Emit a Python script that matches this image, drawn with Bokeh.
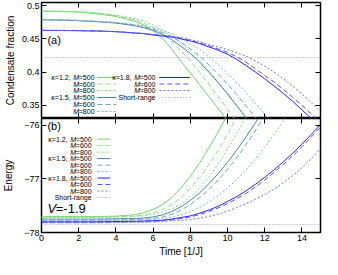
import numpy as np
from bokeh.plotting import figure
from bokeh.layouts import column
from bokeh.models import (LinearAxis, FixedTicker, CustomJSTickFormatter, Range1d, Label, Arrow,
                          CustomLabelingPolicy)
from bokeh.embed import file_html
from bokeh.resources import INLINE

# ---------------- data ----------------
time = [0, 1, 2, 3, 4, 5, 5.5, 6, 6.5, 7, 7.5, 8, 8.5, 9, 9.5, 10,
        10.5, 11, 11.5, 12, 12.5, 13, 13.5, 14, 14.5, 15]

# condensate fraction
cf_k12_m500 = [.492, .4915, .4905, .488, .484, .477, .471, .462, .451, .435, .416, .399, .381, .363, .345, .327] + [None] * 10
cf_k12_m600 = [.492, .4918, .491, .489, .485, .479, .474, .467, .458, .446, .432, .417, .400, .382, .363, .344, .325] + [None] * 9
cf_k12_m800 = [.492, .4918, .491, .489, .486, .481, .477, .471, .464, .455, .444, .432, .418, .402, .385, .368, .350, .332, .314] + [None] * 7
cf_k15_m500 = [.479, .4785, .4775, .476, .474, .470, .467, .463, .457, .449, .439, .428, .415, .400, .384, .367, .349, .331, .312] + [None] * 7
cf_k15_m600 = [.479, .4787, .478, .4765, .4745, .471, .468, .465, .460, .453, .445, .435, .424, .411, .397, .382, .366, .349, .332, .314] + [None] * 6
cf_k15_m800 = [.479, .4788, .478, .477, .475, .472, .470, .467, .463, .458, .451, .443, .434, .423, .411, .398, .384, .369, .353, .337, .320] + [None] * 5
cf_k18_m500 = [.463, .4628, .4625, .462, .461, .459, .458, .456, .4545, .453, .450, .447, .443, .438, .433, .427, .419, .410, .400, .390, .379, .368, .356, .343, .330, .317]
cf_k18_m600 = [.463, .4628, .4625, .462, .461, .459, .458, .4565, .455, .4535, .451, .448, .444, .440, .435, .430, .423, .415, .405, .395, .385, .374, .362, .350, .337, .324]
cf_k18_m800 = [.463, .4628, .4625, .462, .461, .4595, .4585, .457, .4555, .454, .452, .449, .446, .442, .438, .434, .429, .424, .417, .409, .400, .390, .379, .367, .354, .340]

# energy
e_k12_m500 = [-77.70, -77.70, -77.70, -77.70, -77.695, -77.67, -77.63, -77.57, -77.48, -77.35, -77.17, -76.95, -76.70, -76.42, -76.12, -75.80] + [None] * 10
e_k12_m600 = [-77.71, -77.71, -77.71, -77.71, -77.705, -77.69, -77.67, -77.63, -77.57, -77.48, -77.35, -77.18, -76.97, -76.73, -76.46, -76.16, -75.84] + [None] * 9
e_k12_m800 = [-77.72, -77.72, -77.72, -77.72, -77.715, -77.70, -77.69, -77.66, -77.62, -77.56, -77.47, -77.34, -77.17, -76.96, -76.72, -76.45, -76.15, -75.84] + [None] * 8
e_k15_m500 = [-77.75, -77.75, -77.75, -77.75, -77.745, -77.74, -77.73, -77.71, -77.67, -77.61, -77.52, -77.40, -77.26, -77.09, -76.90, -76.69, -76.46, -76.21, -75.95, -75.67] + [None] * 6
e_k15_m600 = [-77.77, -77.77, -77.77, -77.77, -77.765, -77.76, -77.75, -77.74, -77.71, -77.66, -77.58, -77.48, -77.35, -77.20, -77.02, -76.82, -76.60, -76.36, -76.10, -75.82] + [None] * 6
e_k15_m800 = [-77.78, -77.78, -77.78, -77.78, -77.775, -77.77, -77.765, -77.76, -77.74, -77.71, -77.67, -77.61, -77.53, -77.43, -77.31, -77.17, -77.01, -76.83, -76.63, -76.41, -76.17, -75.92, -75.65] + [None] * 3
e_k18_m500 = [-77.80, -77.80, -77.80, -77.80, -77.795, -77.79, -77.785, -77.78, -77.77, -77.75, -77.72, -77.69, -77.64, -77.58, -77.51, -77.42, -77.33, -77.22, -77.10, -76.97, -76.83, -76.68, -76.52, -76.35, -76.17, -75.98]
e_k18_m600 = [-77.81, -77.81, -77.81, -77.81, -77.805, -77.80, -77.795, -77.79, -77.78, -77.765, -77.74, -77.71, -77.665, -77.61, -77.54, -77.46, -77.37, -77.27, -77.15, -77.02, -76.88, -76.73, -76.57, -76.40, -76.22, -76.03]
e_k18_m800 = [-77.82, -77.82, -77.82, -77.82, -77.815, -77.81, -77.81, -77.805, -77.795, -77.78, -77.77, -77.76, -77.735, -77.70, -77.655, -77.60, -77.535, -77.46, -77.38, -77.29, -77.19, -77.07, -76.94, -76.79, -76.62, -76.44]

short_range_time = [0, 15]
short_range_cf = [0.422, 0.422]
short_range_energy = [-77.85, -77.85]

kappa_labels = ["κ=1.2,", "κ=1.5,", "κ=1.8,"]
m_labels = ["=500", "=600", "=800"]
x_ticks = [0, 2, 4, 6, 8, 10, 12, 14]
cf_ticks = [0.35, 0.40, 0.45, 0.50]
energy_ticks = [-78, -77, -76]
x_range = (0, 15)
cf_range = (0.33, 0.505)
energy_range = (-78.0, -75.87)

# ---------------- styles ----------------
FONT = "Liberation Sans"
W = 322
LB, RB = 36, 2
FW = W - LB - RB
FH = 116
colors = [["#6fd66f", "#8ee08e", "#80d880"],
          ["#4d819c", "#6ea6c2", "#82b6d0"],
          ["#2323ff", "#5252ff", "#7070ff"]]
dashes = ["solid", "5 3", "2 2"]
SR_COLOR = "#a0a0a0"
SR_DASH = "1 2"

cf_series = [[cf_k12_m500, cf_k12_m600, cf_k12_m800],
             [cf_k15_m500, cf_k15_m600, cf_k15_m800],
             [cf_k18_m500, cf_k18_m600, cf_k18_m800]]
e_series = [[e_k12_m500, e_k12_m600, e_k12_m800],
            [e_k15_m500, e_k15_m600, e_k15_m800],
            [e_k18_m500, e_k18_m600, e_k18_m800]]


def arr(v):
    return np.array([np.nan if a is None else a for a in v], dtype=float)


def base_fig(h, yr, bt, bb):
    p = figure(width=W, height=h, x_range=Range1d(*x_range), y_range=Range1d(*yr),
               output_backend="svg", toolbar_location=None,
               x_axis_location=None, y_axis_location=None,
               min_border_left=LB, min_border_right=RB,
               min_border_top=bt, min_border_bottom=bb)
    p.grid.visible = False
    p.outline_line_color = "black"
    p.outline_line_width = 1.5
    p.outline_line_alpha = 1.0
    p.background_fill_color = "white"
    p.border_fill_color = "white"
    return p


def add_axes(p, yticks, yfmt, show_x, ylabel, ylabel_standoff, xlabel=None):
    for side in ["left", "right", "above", "below"]:
        ticks = yticks if side in ("left", "right") else x_ticks
        ax = LinearAxis(ticker=FixedTicker(ticks=ticks))
        ax.axis_line_color = None
        ax.major_tick_in = 5
        ax.major_tick_out = 0
        ax.major_tick_line_color = "black"
        ax.major_tick_line_width = 1
        ax.minor_tick_line_color = None
        ax.major_label_text_font = FONT
        ax.major_label_text_color = "black"
        show = side == "left" or (side == "below" and show_x)
        if show:
            ax.major_label_text_font_size = "9px"
            ax.major_label_standoff = 2
        else:
            # tick marks only: no tick labels at all
            ax.major_label_policy = CustomLabelingPolicy(code="return []")
            ax.major_label_text_color = None
            ax.major_label_standoff = 0
        if side == "left":
            if yfmt is not None:
                ax.formatter = yfmt
            ax.axis_label = ylabel
            ax.axis_label_standoff = ylabel_standoff
        if side == "below" and xlabel:
            ax.axis_label = xlabel
            ax.axis_label_standoff = 2
        if ax.axis_label:
            ax.axis_label_text_font = FONT
            ax.axis_label_text_font_size = "10px"
            ax.axis_label_text_font_style = "normal"
            ax.axis_label_text_color = "black"
        p.add_layout(ax, side)


def px2x(px):
    return x_range[0] + px / FW * (x_range[1] - x_range[0])


def px2y(yr, px_from_top):
    return yr[1] - px_from_top / FH * (yr[1] - yr[0])


EM = {"=": 0.584, "0": 0.556, "5": 0.556, "6": 0.556, "8": 0.556}


def txt(p, x, y, text, size, align="right", style="normal"):
    p.add_layout(Label(x=x, y=y, text=text, text_align=align, text_baseline="middle",
                       text_font=FONT, text_font_size=f"{size}px", text_font_style=style,
                       text_color="black"))


def legend_item(p, yr, xr_px, y_px, s0_px, s1_px, kappa_text, m_text, color, dash, fs=7):
    y = px2y(yr, y_px)
    if m_text is None:
        txt(p, px2x(xr_px), y, kappa_text, fs)
    else:
        w1 = sum(EM.get(c, 0.556) for c in m_text) * fs
        txt(p, px2x(xr_px), y, m_text, fs)
        txt(p, px2x(xr_px - w1), y, "M", fs, style="italic")
        if kappa_text:
            txt(p, px2x(xr_px - w1 - 0.833 * fs - 0.4 * fs), y, kappa_text, fs)
    p.add_layout(Arrow(end=None, x_start=px2x(s0_px), y_start=y, x_end=px2x(s1_px), y_end=y,
                       line_color=color, line_dash=dash, line_width=1))


t = arr(time)

# ---------------- panel (a) ----------------
p1 = base_fig(118, cf_range, 2, 0)
add_axes(p1, cf_ticks, CustomJSTickFormatter(code="return parseFloat(tick.toFixed(2)).toString();"),
         False, "Condensate fraction", 3)
p1.line(short_range_time, short_range_cf, line_color=SR_COLOR, line_dash=SR_DASH, line_width=1)
for k in range(3):
    for m in range(3):
        p1.line(t, arr(cf_series[k][m]), line_color=colors[k][m], line_dash=dashes[m], line_width=1)

rows_a = [FH - d for d in (41, 34.5, 28, 21, 14, 7)]
for i in range(6):
    k, m = divmod(i, 3)
    legend_item(p1, cf_range, 54, rows_a[i], 57, 76,
                kappa_labels[k] if m == 0 else "", m_labels[m], colors[k][m], dashes[m])
for m in range(3):
    legend_item(p1, cf_range, 116, rows_a[m], 120, 151,
                kappa_labels[2] if m == 0 else "", m_labels[m], colors[2][m], dashes[m])
legend_item(p1, cf_range, 116, rows_a[3], 120, 151, "Short-range", None, SR_COLOR, SR_DASH)
txt(p1, px2x(6), px2y(cf_range, 37), "(a)", 11, align="left")

# ---------------- panel (b) ----------------
p2 = base_fig(141, energy_range, 0, 25)
add_axes(p2, energy_ticks, None, True, "Energy", 7, xlabel="Time [1/J]")
p2.line(short_range_time, short_range_energy, line_color=SR_COLOR, line_dash=SR_DASH, line_width=1)
for k in range(3):
    for m in range(3):
        p2.line(t, arr(e_series[k][m]), line_color=colors[k][m], line_dash=dashes[m], line_width=1)

for i in range(9):
    k, m = divmod(i, 3)
    legend_item(p2, energy_range, 51, 21 + 6.6 * i, 57, 70,
                kappa_labels[k] if m == 0 else "", m_labels[m], colors[k][m], dashes[m])
legend_item(p2, energy_range, 51, 21 + 6.6 * 9, 57, 70, "Short-range", None, SR_COLOR, SR_DASH)
txt(p2, px2x(6), px2y(energy_range, 8), "(b)", 11, align="left")
txt(p2, px2x(6), px2y(energy_range, FH - 24), "V", 13, align="left", style="italic")
txt(p2, px2x(14.5), px2y(energy_range, FH - 24), "=-1.9", 13, align="left")

layout = column(p1, p2, spacing=0)
open("out.html", "w").write(file_html(layout, INLINE))
